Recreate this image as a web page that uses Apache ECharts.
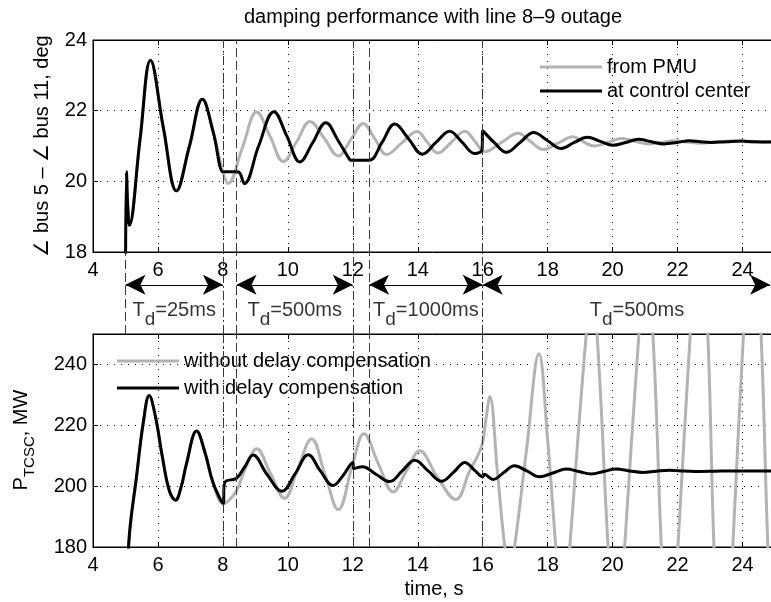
<!DOCTYPE html>
<html>
<head>
<meta charset="utf-8">
<script src="https://cdn.jsdelivr.net/npm/echarts@6/dist/echarts.min.js"></script>
<style>
  html, body { margin: 0; padding: 0; background: #fff; }
  #chart { width: 771px; height: 602px; }
</style>
</head>
<body>
<div id="chart"></div>
<script>
const FONT = '"Liberation Sans", Arial, sans-serif';
const GRAY = '#b3b3b3';

// top plot: angle difference, [time s, deg]; identical for both curves up to 8 s
const angleBefore = [
  [5.0, 17.0], [5.03, 20.27], [5.07, 19.3], [5.12, 18.76], [5.45, 21.2], [5.77, 23.43],
  [6.17, 21.5], [6.57, 19.73], [6.97, 21.0], [7.37, 22.32], [7.7, 21.4], [8.0, 20.27]
];
const anglePmuAfter = [
  [8.16, 19.94], [8.6, 20.95], [9.04, 21.96], [9.45, 21.28], [9.86, 20.56], [10.27, 21.12],
  [10.68, 21.69], [11.12, 21.22], [11.55, 20.72], [11.94, 21.18], [12.32, 21.64], [12.68, 21.2],
  [13.04, 20.76], [13.5, 21.08], [13.98, 21.41], [14.3, 21.1], [14.62, 20.8], [15.03, 21.1],
  [15.45, 21.42], [15.76, 21.13], [16.06, 20.84], [16.58, 21.1], [17.09, 21.36], [17.47, 21.13],
  [17.86, 20.9], [18.32, 21.08], [18.78, 21.26], [19.1, 21.12], [19.42, 21.0], [19.85, 21.1],
  [20.28, 21.21], [20.7, 21.13], [21.12, 21.06], [21.5, 21.1], [21.9, 21.15], [22.3, 21.11],
  [22.7, 21.08], [23.2, 21.12], [23.7, 21.14], [24.3, 21.11], [25.0, 21.12]
];
const angleCcAfter = [
  [8.02, 20.27], [8.46, 20.27], [8.66, 19.94], [9.1, 21.0], [9.57, 21.97], [9.97, 21.28],
  [10.37, 20.55], [10.77, 21.1], [11.17, 21.66], [11.55, 21.15], [11.9, 20.62], [11.93, 20.6],
  [12.5, 20.6], [12.9, 21.1], [13.29, 21.62], [13.72, 21.2], [14.14, 20.77], [14.56, 21.1],
  [14.98, 21.42], [15.37, 21.1], [15.75, 20.79], [15.98, 20.9], [16.0, 21.43], [16.35, 21.1],
  [16.73, 20.82], [17.15, 21.1], [17.57, 21.38], [18.0, 21.15], [18.42, 20.93], [18.82, 21.1],
  [19.22, 21.25], [19.62, 21.13], [20.01, 21.02], [20.4, 21.1], [20.8, 21.19], [21.2, 21.12],
  [21.58, 21.06], [21.98, 21.1], [22.37, 21.15], [22.7, 21.12], [23.05, 21.1], [23.5, 21.12],
  [23.95, 21.14], [24.4, 21.12], [25.0, 21.11]
];

// bottom plot: TCSC power, [time s, MW]; identical up to 8 s
const powerBefore = [
  [5.0, 140], [5.1, 181], [5.35, 204], [5.55, 221], [5.73, 229.8], [5.92, 223], [6.13, 210],
  [6.35, 198.5], [6.54, 195.4], [6.72, 200], [6.87, 207], [7.19, 218.1], [7.45, 211],
  [7.7, 201], [8.01, 194.3]
];
const powerNoCompAfter = [
  [8.2, 195.5], [8.42, 198.5], [8.7, 206], [9.04, 212.3], [9.45, 204.5], [9.9, 196],
  [10.3, 205.5], [10.73, 215.5], [11.14, 204], [11.55, 192.3], [12.0, 207.4], [12.34, 217.2],
  [12.8, 207], [13.24, 198.1], [13.65, 205], [14.06, 211.6], [14.6, 203], [15.17, 195.6],
  [15.6, 205], [15.9, 211.2], [16.0, 214.5], [16.1, 222], [16.22, 229.5], [16.45, 205],
  [16.68, 180], [16.83, 172], [16.98, 180], [17.35, 212], [17.73, 243.5], [18.0, 215],
  [18.25, 180], [18.465, 152], [18.68, 180], [19.19, 250], [19.355, 262], [19.52, 250],
  [19.86, 180], [20.115, 140], [20.37, 180], [20.81, 250], [21.025, 275], [21.24, 250],
  [21.5, 180], [21.755, 125], [22.01, 180], [22.39, 250], [22.66, 299], [22.93, 250],
  [23.12, 180], [23.41, 110], [23.7, 180], [24.03, 250], [24.3, 300], [24.57, 250],
  [24.78, 180], [25.05, 110]
];
const powerCompAfter = [
  [8.04, 200.5], [8.1, 201.7], [8.42, 202.6], [8.68, 206.5], [8.93, 210.2], [9.35, 204],
  [9.82, 198.3], [10.22, 204], [10.63, 210.3], [11.0, 205], [11.39, 200.2], [11.7, 203.5],
  [12.0, 207.8], [12.03, 205.8], [12.3, 206.4], [12.7, 204], [13.14, 201.5], [13.52, 205],
  [13.91, 208.5], [14.32, 205], [14.73, 201.6], [15.1, 204.5], [15.45, 207.8], [15.75, 205.2],
  [16.0, 203.1], [16.05, 203.9], [16.32, 202.2], [16.65, 204.5], [16.98, 206.7], [17.36, 205],
  [17.75, 203.1], [18.16, 204.3], [18.58, 205.6], [18.96, 204.8], [19.34, 204], [19.72, 204.8],
  [20.11, 205.6], [20.52, 205], [20.93, 204.5], [21.34, 204.9], [21.75, 205.2], [22.2, 205],
  [22.68, 204.8], [23.15, 204.9], [23.6, 205], [24.2, 205], [25.0, 205]
];

// switching instants and delay intervals
const dashDotTimes = [8, 12, 16];
const dashedTimes = [8.4, 12.5];
const faultTime = 5;
const delayStart = [5, 8.42, 12.5, 16];
const delayEnd = [8, 12, 16, 24.85];
const delayLabelX = [6.5, 10.21, 14.25, 20.75];
const delayLabels = ['25ms', '500ms', '1000ms', '500ms'];

const DASHDOT = [9, 3, 2, 3];
const DASHED = [9, 4];
const VCOLOR = '#3a3a3a';

const vlines = (extra) => {
  const items = dashDotTimes.map(x => ({ xAxis: x, lineStyle: { type: DASHDOT, color: VCOLOR, width: 1 } }))
    .concat(dashedTimes.map(x => ({ xAxis: x, lineStyle: { type: DASHED, color: VCOLOR, width: 1 } })));
  if (extra) items.push({ xAxis: faultTime, lineStyle: { type: DASHED, color: VCOLOR, width: 1 } });
  return { silent: true, symbol: 'none', label: { show: false }, data: items, animation: false };
};

const xAxisCfg = (gridIndex) => ({
  type: 'value', gridIndex, min: 4, max: 25, interval: 2,
  axisLine: { lineStyle: { color: '#000', width: 1 } },
  axisTick: { inside: true, length: 5, lineStyle: { color: '#000' } },
  axisLabel: { color: '#000', fontSize: 20, fontFamily: FONT, margin: 8, showMaxLabel: false },
  splitLine: { show: true, lineStyle: { type: [1, 6], color: '#000', width: 1 } }
});
const xTopCfg = (gridIndex) => ({
  type: 'value', gridIndex, min: 4, max: 25, interval: 2, position: 'top',
  axisLine: { lineStyle: { color: '#000' } },
  axisTick: { inside: true, length: 5, lineStyle: { color: '#000' } },
  axisLabel: { show: false }, splitLine: { show: false }
});
const yAxisCfg = (gridIndex, min, max, interval, showMax) => ({
  type: 'value', gridIndex, min, max, interval,
  axisLine: { show: true, lineStyle: { color: '#000', width: 1 } },
  axisTick: { show: true, inside: true, length: 5, lineStyle: { color: '#000' } },
  axisLabel: { color: '#000', fontSize: 20, fontFamily: FONT, margin: 6, showMaxLabel: showMax },
  splitLine: { show: true, lineStyle: { type: [1, 6], color: '#000', width: 1 } }
});

const curve = (name, data, color, xi, yi, markLine) => ({
  name, type: 'line', data, xAxisIndex: xi, yAxisIndex: yi,
  showSymbol: false, symbol: 'none', smooth: 0.4, clip: true,
  lineStyle: { color, width: 3 }, itemStyle: { color },
  markLine, z: 3
});

const legendCfg = (names, left, top, gap) => ({
  data: names.map(n => ({ name: n, icon: 'rect' })), orient: 'vertical', left, top, padding: 0,
  itemWidth: 62, itemHeight: 3, itemGap: gap, selectedMode: false,
  textStyle: { color: '#000', fontSize: 20, fontFamily: FONT }
});

// subscripts: the tall line box pushes the bottom-aligned small token down
const richTd = {
  t: { fontSize: 20, fontFamily: FONT, color: '#000', lineHeight: 39 },
  s: { fontSize: 19, fontFamily: FONT, color: '#000', lineHeight: 6, verticalAlign: 'bottom' }
};
const richP = {
  t: { fontSize: 20, fontFamily: FONT, color: '#000', lineHeight: 33 },
  s: { fontSize: 15, fontFamily: FONT, color: '#000', lineHeight: 6, verticalAlign: 'bottom' }
};

const chart = echarts.init(document.getElementById('chart'));

chart.setOption({
  animation: false,
  backgroundColor: '#fff',
  grid: [
    { left: 93, top: 40, width: 682, height: 212, show: true, borderColor: '#000', borderWidth: 1, outerBoundsMode: 'none', containLabel: false },
    { left: 93, top: 334, width: 682, height: 213, show: true, borderColor: '#000', borderWidth: 1, outerBoundsMode: 'none', containLabel: false },
    { left: 93, top: 252, width: 682, height: 82, show: false, outerBoundsMode: 'none', containLabel: false }
  ],
  xAxis: [
    xAxisCfg(0), xAxisCfg(1),
    { type: 'value', gridIndex: 2, min: 4, max: 25, show: false },
    xTopCfg(0), xTopCfg(1)
  ],
  yAxis: [
    yAxisCfg(0, 18, 24, 2, true),
    yAxisCfg(1, 180, 250, 20, false),
    { type: 'value', gridIndex: 2, min: 0, max: 1, show: false }
  ],
  legend: [
    legendCfg(['from PMU', 'at control center'], 540, 57, 4),
    legendCfg(['without delay compensation', 'with delay compensation'], 117, 351, 7)
  ],
  series: [
    curve('from PMU', angleBefore.concat(anglePmuAfter), GRAY, 0, 0, vlines(false)),
    curve('at control center', angleBefore.concat(angleCcAfter), '#000', 0, 0),
    curve('without delay compensation', powerBefore.concat(powerNoCompAfter), GRAY, 1, 1, vlines(false)),
    curve('with delay compensation', powerBefore.concat(powerCompAfter), '#000', 1, 1),
    {
      type: 'line', xAxisIndex: 2, yAxisIndex: 2, data: [], symbol: 'none',
      markLine: vlines(true)
    },
    {
      type: 'line', xAxisIndex: 2, yAxisIndex: 2, data: [], symbol: 'none',
      markLine: {
        silent: true, symbol: ['arrow', 'arrow'], symbolSize: [15, 20], label: { show: false },
        lineStyle: { type: 'solid', color: '#000', width: 1 },
        data: delayStart.map((s, i) => [{ coord: [s, 0.6] }, { coord: [delayEnd[i], 0.6] }])
      }
    },
    {
      type: 'scatter', xAxisIndex: 2, yAxisIndex: 2, symbolSize: 0, silent: true,
      data: delayLabelX.map((x, i) => ({ value: [x, 0.29], name: delayLabels[i] })),
      label: {
        show: true, position: 'inside', rich: richTd,
        formatter: p => '{t|T}{s|d}{t|=' + p.name + '}'
      }
    }
  ],
  graphic: [
    {
      type: 'text', x: 433, y: 17,
      style: { text: 'damping performance with line 8–9 outage', fontSize: 20, fontFamily: FONT, fill: '#000', align: 'center', verticalAlign: 'middle' }
    },
    {
      type: 'text', x: 42, y: 146, rotation: Math.PI / 2,
      style: { text: '∠ bus 5 – ∠ bus 11, deg', fontSize: 20, fontFamily: FONT, fill: '#000', align: 'center', verticalAlign: 'middle' }
    },
    {
      type: 'text', x: 21, y: 440, rotation: Math.PI / 2,
      style: { text: '{t|P}{s|TCSC}{t|, MW}', rich: richP, align: 'center', verticalAlign: 'middle' }
    },
    {
      type: 'text', x: 434, y: 589,
      style: { text: 'time, s', fontSize: 20, fontFamily: FONT, fill: '#000', align: 'center', verticalAlign: 'middle' }
    }
  ]
});
</script>
</body>
</html>
